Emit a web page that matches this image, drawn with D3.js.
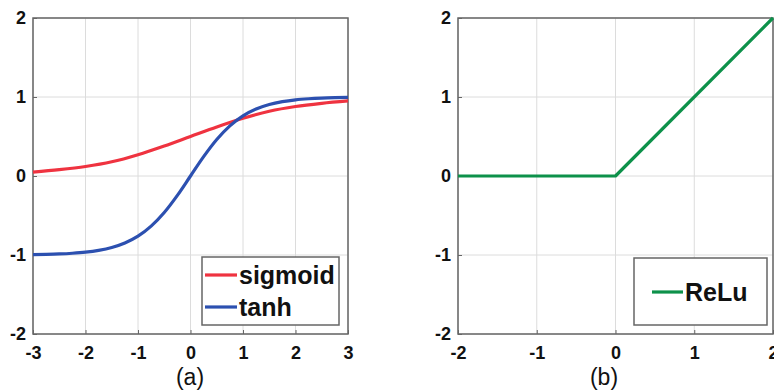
<!DOCTYPE html>
<html lang="en">
<head>
<meta charset="UTF-8">
<script src="https://d3js.org/d3.v7.min.js"></script>
<style>
body { margin: 0; background: #fff; }
svg { display: block; }
.tick text { font-family: "Liberation Sans", Arial, sans-serif; font-weight: bold; font-size: 18px; fill: #111; }
.grid line { stroke: #dcdcdc; stroke-width: 1px; }
.frame { fill: none; stroke: #666; stroke-width: 1.5px; }
.legend-box { fill: #fff; stroke: #666; stroke-width: 1.5px; }
.legend text { font-family: "Liberation Sans", Arial, sans-serif; font-weight: bold; font-size: 25px; fill: #111; }
.caption { font-family: "Liberation Sans", Arial, sans-serif; font-size: 23px; fill: #111; }
</style>
</head>
<body>
<div id="chart"></div>
<script>
// values
var xs = [-3, -2.5, -2, -1.5, -1, -0.5, 0, 0.5, 1, 1.5, 2, 2.5, 3];
var sigmoid = [0.05, 0.08, 0.12, 0.18, 0.27, 0.38, 0.5, 0.62, 0.73, 0.82, 0.88, 0.92, 0.95];
var tanhX = [-3, -2.75, -2.5, -2.25, -2, -1.75, -1.5, -1.25, -1, -0.75, -0.5, -0.25, 0,
             0.25, 0.5, 0.75, 1, 1.25, 1.5, 1.75, 2, 2.25, 2.5, 2.75, 3];
var tanhY = [-0.995, -0.992, -0.987, -0.978, -0.964, -0.941, -0.905, -0.848, -0.762, -0.635, -0.462, -0.245, 0,
             0.245, 0.462, 0.635, 0.762, 0.848, 0.905, 0.941, 0.964, 0.978, 0.987, 0.992, 0.995];
var reluX = [-2, 0, 2];
var reluY = [0, 0, 2];
var ticksA = [-3, -2, -1, 0, 1, 2, 3];
var ticksB = [-2, -1, 0, 1, 2];
var ticksY = [-2, -1, 0, 1, 2];

var W = 774, H = 390;
var svg = d3.select("#chart").append("svg").attr("width", W).attr("height", H);

function panel(opt) {
  var x = d3.scaleLinear().domain(opt.xdom).range([opt.left, opt.right]);
  var y = d3.scaleLinear().domain([-2, 2]).range([334, 18]);
  var g = svg.append("g");

  // grid
  var grid = g.append("g").attr("class", "grid");
  grid.selectAll(".gx").data(opt.xticks).enter().append("line")
    .attr("x1", d => x(d)).attr("x2", d => x(d)).attr("y1", y(2)).attr("y2", y(-2));
  grid.selectAll(".gy").data(ticksY).enter().append("line")
    .attr("x1", x.range()[0]).attr("x2", x.range()[1]).attr("y1", d => y(d)).attr("y2", d => y(d));

  // axes, plain hyphen minus like the original
  var fmt = d => String(d);
  var xa = g.append("g").attr("transform", "translate(0," + y(-2) + ")")
    .call(d3.axisBottom(x).tickValues(opt.xticks).tickSize(-4).tickPadding(11).tickFormat(fmt));
  var ya = g.append("g").attr("transform", "translate(" + x.range()[0] + ",0)")
    .call(d3.axisLeft(y).tickValues(ticksY).tickSize(-4).tickPadding(7).tickFormat(fmt));
  [xa, ya].forEach(function(a) {
    a.select(".domain").remove();
    a.selectAll(".tick line").attr("stroke", "#666");
  });
  xa.selectAll(".tick text").attr("dy", "0.8em");

  g.append("rect").attr("class", "frame")
    .attr("x", x.range()[0]).attr("y", y(2))
    .attr("width", x.range()[1] - x.range()[0]).attr("height", y(-2) - y(2));

  var line = d3.line().x(d => x(d[0])).y(d => y(d[1])).curve(opt.curve || d3.curveLinear);
  opt.series.forEach(function(s) {
    g.append("path").datum(d3.zip(s.x, s.y))
      .attr("fill", "none").attr("stroke", s.color).attr("stroke-width", 3.2)
      .attr("stroke-linejoin", "round").attr("d", line);
  });

  // legend
  var lg = g.append("g").attr("class", "legend");
  lg.append("rect").attr("class", "legend-box")
    .attr("x", opt.legend.x).attr("y", opt.legend.y)
    .attr("width", opt.legend.w).attr("height", opt.legend.h);
  opt.series.forEach(function(s, i) {
    var ly = opt.legend.rowY[i];
    lg.append("line").attr("x1", opt.legend.lx0).attr("x2", opt.legend.lx1)
      .attr("y1", ly).attr("y2", ly).attr("stroke", s.color).attr("stroke-width", 3.2);
    lg.append("text").attr("x", opt.legend.lx1 + 2).attr("y", ly).attr("dy", "0.35em").text(s.name);
  });

  svg.append("text").attr("class", "caption").attr("text-anchor", "middle")
    .attr("x", opt.capX).attr("y", 385).text(opt.caption);
}

panel({
  xdom: [-3, 3], left: 33, right: 348, xticks: ticksA, curve: d3.curveMonotoneX,
  series: [
    { name: "sigmoid", color: "#ef3340", x: xs, y: sigmoid },
    { name: "tanh", color: "#2c50b0", x: tanhX, y: tanhY }
  ],
  legend: { x: 202, y: 257, w: 137, h: 68, lx0: 205, lx1: 237, rowY: [275, 307] },
  capX: 190, caption: "(a)"
});

panel({
  xdom: [-2, 2], left: 458, right: 773, xticks: ticksB,
  series: [
    { name: "ReLu", color: "#0d914a", x: reluX, y: reluY }
  ],
  legend: { x: 634, y: 258, w: 133, h: 67, lx0: 652, lx1: 683, rowY: [292] },
  capX: 604, caption: "(b)"
});
</script>
</body>
</html>
